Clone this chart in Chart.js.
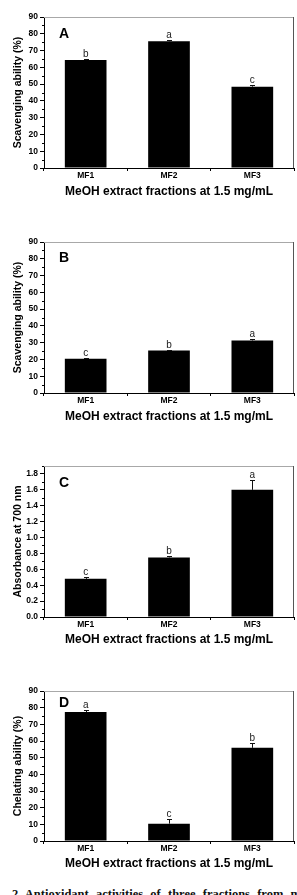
<!DOCTYPE html>
<html><head><meta charset="utf-8">
<script src="https://cdn.jsdelivr.net/npm/chart.js@4.4.1/dist/chart.umd.min.js"></script>
<style>
html,body{margin:0;padding:0;background:#fff;width:297px;height:895px;overflow:hidden;position:relative}
.pw{position:absolute;left:0;width:297px}
.pw canvas{display:block}
.cap{position:absolute;left:12px;top:888px;width:289px;font:bold 12.5px/13px "Liberation Serif","DejaVu Serif",serif;color:#111;text-align:justify;text-align-last:justify}
</style></head><body>
<div class="pw" style="top:0"><canvas id="cA" width="297" height="225"></canvas></div>
<div class="pw" style="top:225px"><canvas id="cB" width="297" height="225"></canvas></div>
<div class="pw" style="top:450px"><canvas id="cC" width="297" height="225"></canvas></div>
<div class="pw" style="top:675px"><canvas id="cD" width="297" height="205"></canvas></div>
<div class="cap">2 Antioxidant activities of three fractions from m</div>
<script>
// ---- data ----
const categories = ['MF1', 'MF2', 'MF3'];
const xAxisTitle = 'MeOH extract fractions at 1.5 mg/mL';

const valuesA = [64.3, 75.5, 48.5];
const errorsA = [0.6, 0.8, 1.1];
const lettersA = ['b', 'a', 'c'];

const valuesB = [20.4, 25.3, 31.3];
const errorsB = [0.3, 0.5, 0.6];
const lettersB = ['c', 'b', 'a'];

const valuesC = [0.48, 0.75, 1.60];
const errorsC = [0.02, 0.02, 0.12];
const lettersC = ['c', 'b', 'a'];

const valuesD = [77.4, 10.4, 55.9];
const errorsD = [1.0, 2.8, 2.8];
const lettersD = ['a', 'c', 'b'];

const yTitles = ['Scavenging ability (%)', 'Scavenging ability (%)', 'Absorbance at 700 nm', 'Chelating ability (%)'];
const panelLabels = ['A', 'B', 'C', 'D'];
const yMax = [90, 90, 1.9, 90];
const yStep = [10, 10, 0.2, 10];
const yDecimals = [0, 0, 1, 0];

// ---- layout (not data) ----
const layoutInfo = [
  {id:'cA', H:225, top:17, bottom:168, xTitleY:192, labelY:37.5},
  {id:'cB', H:225, top:17, bottom:168, xTitleY:192, labelY:37},
  {id:'cC', H:225, top:16, bottom:167, xTitleY:190, labelY:37},
  {id:'cD', H:205, top:16, bottom:166, xTitleY:189, labelY:32}
];

Chart.defaults.font.family = '"Liberation Sans", Arial, sans-serif';
Chart.defaults.color = '#000';

const extras = {
  id: 'extras',
  afterDatasetsDraw(chart, args, o) {
    const {ctx, chartArea: a, scales: {x, y}} = chart;
    ctx.save();
    // frame (top, right)
    ctx.lineWidth = 1;
    ctx.strokeStyle = '#a8a8a8';
    ctx.beginPath(); ctx.moveTo(a.left, Math.round(a.top) + 0.5); ctx.lineTo(a.right, Math.round(a.top) + 0.5); ctx.stroke();
    ctx.strokeStyle = '#555';
    ctx.beginPath(); ctx.moveTo(Math.round(a.right) - 0.5, a.top); ctx.lineTo(Math.round(a.right) - 0.5, a.bottom); ctx.stroke();
    // minor y ticks
    ctx.strokeStyle = '#000';
    const st = o.step;
    for (let k = 0; ; k++) {
      const v = st / 2 + k * st;
      if (v > o.max + 1e-9) break;
      const py = Math.round(y.getPixelForValue(v)) + 0.5;
      ctx.beginPath(); ctx.moveTo(a.left - 2, py); ctx.lineTo(a.left, py); ctx.stroke();
    }
    // error bars and letters
    const meta = chart.getDatasetMeta(0);
    ctx.font = '10px "Liberation Sans", Arial, sans-serif';
    ctx.textAlign = 'center';
    ctx.textBaseline = 'alphabetic';
    meta.data.forEach((bar, i) => {
      const cx = Math.round(bar.x) + 0.5;
      const yv = y.getPixelForValue(o.values[i]);
      const ye = Math.round(y.getPixelForValue(o.values[i] + o.errors[i])) + 0.5;
      ctx.strokeStyle = '#111';
      ctx.beginPath(); ctx.moveTo(cx, yv); ctx.lineTo(cx, ye); ctx.stroke();
      ctx.beginPath(); ctx.moveTo(cx - 2.5, ye); ctx.lineTo(cx + 2.5, ye); ctx.stroke();
      ctx.fillStyle = '#222';
      ctx.fillText(o.letters[i], bar.x, ye - 2.5);
    });
    // panel label
    ctx.font = 'bold 14px "Liberation Sans", Arial, sans-serif';
    ctx.textAlign = 'left';
    ctx.fillStyle = '#000';
    ctx.fillText(o.label, 59, o.labelY);
    ctx.restore();
  }
};

const allValues = [valuesA, valuesB, valuesC, valuesD];
const allErrors = [errorsA, errorsB, errorsC, errorsD];
const allLetters = [lettersA, lettersB, lettersC, lettersD];

layoutInfo.forEach((L, p) => {
  const xFont = 12;
  new Chart(document.getElementById(L.id), {
    type: 'bar',
    data: {
      labels: categories,
      datasets: [{
        data: allValues[p],
        backgroundColor: '#000',
        borderWidth: 0,
        barPercentage: 0.5,
        categoryPercentage: 1.0
      }]
    },
    options: {
      responsive: false,
      animation: false,
      events: [],
      layout: {padding: {top: L.top, left: 0, right: 3, bottom: 0}},
      plugins: {
        legend: {display: false},
        tooltip: {enabled: false},
        extras: {
          values: allValues[p], errors: allErrors[p], letters: allLetters[p],
          label: panelLabels[p], labelY: L.labelY, step: yStep[p], max: yMax[p]
        }
      },
      scales: {
        x: {
          grid: {offset: true, drawOnChartArea: false, tickLength: 3, color: '#000', lineWidth: 1},
          border: {color: '#000', width: 1},
          ticks: {font: {size: 8.5, weight: 'bold'}, color: '#000', padding: 0, maxRotation: 0},
          title: {
            display: true, text: xAxisTitle,
            font: {size: xFont, weight: 'bold', lineHeight: 1},
            color: '#000',
            padding: {top: 0, bottom: L.H - L.xTitleY - xFont / 2}
          },
          afterFit(s) { s.height = L.H - L.bottom; }
        },
        y: {
          min: 0, max: yMax[p],
          grid: {drawOnChartArea: false, tickLength: 4, color: '#000', lineWidth: 1},
          border: {color: '#000', width: 1},
          ticks: {
            stepSize: yStep[p], includeBounds: false,
            font: {size: 8.5, weight: 'bold'}, color: '#000', padding: 2,
            callback: (v) => Number(v).toFixed(yDecimals[p])
          },
          title: {
            display: true, text: yTitles[p],
            font: {size: 10.5, weight: 'bold', lineHeight: 1},
            color: '#000',
            padding: {top: 12.5, bottom: 0}
          },
          afterFit(s) { s.width = 44; }
        }
      }
    },
    plugins: [extras]
  });
});
</script>
</body></html>
